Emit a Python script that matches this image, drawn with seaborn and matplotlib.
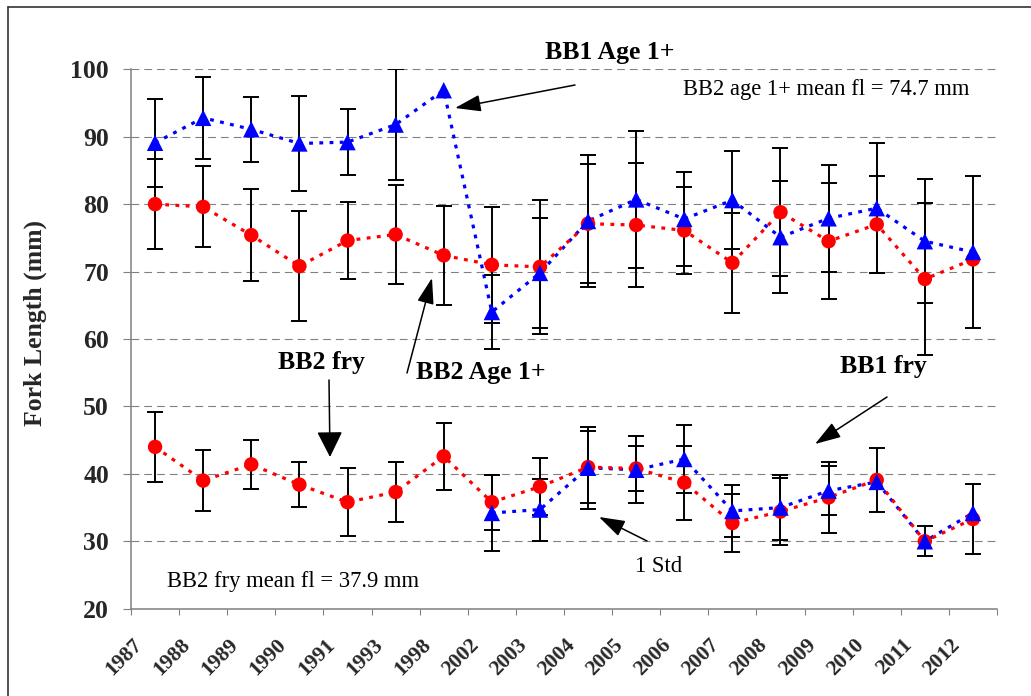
import numpy as np
import pandas as pd
import matplotlib
matplotlib.use("Agg")
import matplotlib.pyplot as plt
from matplotlib.lines import Line2D
import seaborn as sns

nan = np.nan
years = ['1987', '1988', '1989', '1990', '1991', '1993', '1998', '2002', '2003',
         '2004', '2005', '2006', '2007', '2008', '2009', '2010', '2011', '2012']

bb1_age1_mean = [89.1, 92.8, 91.1, 89.0, 89.2, 91.8, 96.9, 64.0, 69.8,
                 77.5, 80.7, 77.8, 80.6, 75.1, 77.9, 79.4, 74.5, 72.9]
bb1_age1_std = [6.5, 6.1, 4.8, 7.1, 4.9, 8.2, nan, 5.5, 8.1,
                9.8, 10.1, 7.0, 7.3, 8.3, 7.9, 9.6, 9.2, 11.3]
bb2_age1_mean = [80.0, 79.6, 75.4, 70.8, 74.6, 75.5, 72.4, 71.0, 70.7,
                 77.1, 76.9, 76.1, 71.3, 78.8, 74.5, 77.0, 68.9, 71.8]
bb2_age1_std = [6.7, 6.0, 6.8, 8.2, 5.7, 7.3, 7.3, 8.6, 9.9,
                8.8, 9.2, 6.4, 7.4, 9.5, 8.6, 7.2, 11.3, nan]
bb2_fry_mean = [44.0, 39.0, 41.4, 38.4, 35.8, 37.3, 42.6, 35.8, 38.1,
                41.0, 40.8, 38.7, 32.7, 34.4, 36.5, 39.1, 30.0, 33.3]
bb2_fry_std = [5.2, 4.5, 3.6, 3.3, 5.0, 4.4, 5.0, 4.1, 4.2,
               5.3, 3.4, 5.5, 4.3, 5.0, 5.2, 4.75, 2.2, 5.2]
bb1_fry_mean = [nan, nan, nan, nan, nan, nan, nan, 34.2, 34.7,
                40.9, 40.6, 42.2, 34.5, 35.0, 37.5, 38.8, 30.0, 34.2]
bb1_fry_std = [nan, nan, nan, nan, nan, nan, nan, 5.6, 4.6,
               6.1, 4.95, 5.05, 3.9, 4.8, 3.6, nan, nan, nan]

series = {
    'BB1 Age 1+': (bb1_age1_mean, bb1_age1_std),
    'BB2 Age 1+': (bb2_age1_mean, bb2_age1_std),
    'BB1 fry': (bb1_fry_mean, bb1_fry_std),
    'BB2 fry': (bb2_fry_mean, bb2_fry_std),
}
rows = []
for name, (m, s) in series.items():
    for i, (mv, sv) in enumerate(zip(m, s)):
        rows.append({'pos': i, 'year': years[i], 'series': name, 'mean': mv, 'std': sv})
df = pd.DataFrame(rows).dropna(subset=['mean'])

palette = {'BB1 Age 1+': '#0000FF', 'BB1 fry': '#0000FF',
           'BB2 Age 1+': '#FF0000', 'BB2 fry': '#FF0000'}
markers = {'BB1 Age 1+': '^', 'BB1 fry': '^', 'BB2 Age 1+': 'o', 'BB2 fry': 'o'}
dashes = {k: (1.2, 2.0) for k in palette}

sns.set_theme(style='white')
plt.rcParams['font.family'] = ['Liberation Serif', 'DejaVu Serif']

W, H = 1031, 696
fig = plt.figure(figsize=(W / 100, H / 100), dpi=100)
ax = fig.add_axes([131 / W, 1 - 608.7 / H, 866 / W, 539.4 / H])

# dotted connecting lines
sns.lineplot(data=df, x='pos', y='mean', hue='series', style='series',
             palette=palette, dashes=dashes, linewidth=2.3, legend=False,
             ax=ax, zorder=2, estimator=None, sort=True)

# error bars (1 std)
for name in series:
    d = df[df['series'] == name].dropna(subset=['std'])
    ax.errorbar(d['pos'], d['mean'], yerr=d['std'], fmt='none', ecolor='black',
                elinewidth=1.4, capsize=5.8, capthick=1.4, zorder=3)

# markers: red circles, blue triangles
red = df[df['series'].isin(['BB2 Age 1+', 'BB2 fry'])]
blue = df[df['series'].isin(['BB1 Age 1+', 'BB1 fry'])]
sns.scatterplot(data=red, x='pos', y='mean', hue='series', style='series',
                palette=palette, markers=markers, s=108, linewidth=0,
                legend=False, ax=ax, zorder=4)
sns.scatterplot(data=blue, x='pos', y='mean', hue='series', style='series',
                palette=palette, markers=markers, s=140, linewidth=0,
                legend=False, ax=ax, zorder=5)

ax.set_xlim(-0.5, len(years) - 0.5)
ax.set_ylim(20, 100)
ax.set_xlabel('')
ax.set_ylabel('Fork Length (mm)', fontsize=18.5, fontweight='bold')
ax.yaxis.set_label_coords(-0.097, 0.53)

ax.set_yticks(np.arange(20, 101, 10))
ax.set_yticklabels([str(v) for v in range(20, 101, 10)], fontsize=18.5, fontweight='bold')
ax.tick_params(axis='y', which='major', direction='out', length=5.8, width=0.8,
               color='#808080', pad=10, left=True)

ax.set_xticks(np.arange(len(years) + 1) - 0.5)
ax.set_xticklabels([])
ax.tick_params(axis='x', which='major', direction='out', length=4.3, width=0.8,
               color='#808080', bottom=True)
ax.set_xticks(np.arange(len(years)) - 0.33, minor=True)
ax.set_xticklabels(years, minor=True, rotation=45, ha='right', va='center',
                   rotation_mode='anchor', fontsize=15.5, fontweight='bold')
ax.tick_params(axis='x', which='minor', length=0, pad=24, bottom=True)

ax.yaxis.grid(True, linestyle=(0, (7, 4.5)), color='#808080', linewidth=0.8)
ax.xaxis.grid(False)
ax.set_axisbelow(True)
for sp in ['top', 'right']:
    ax.spines[sp].set_visible(False)
for sp in ['left', 'bottom']:
    ax.spines[sp].set_color('#808080')
    ax.spines[sp].set_linewidth(1.1)

def fp(x, y):
    return (x, H - y)

texts = [
    ('BB1 Age 1+', 610, 52, 'bold', 18.5),
    ('BB2 age 1+ mean fl = 74.7 mm', 826, 89, 'normal', 16.3),
    ('BB2 Age 1+', 481, 373, 'bold', 18.5),
    ('BB2 fry', 321, 363, 'bold', 18.5),
    ('BB1 fry', 883, 367, 'bold', 18.5),
    ('1 Std', 659, 567, 'normal', 16.3),
    ('BB2 fry mean fl = 37.9 mm', 293, 582, 'normal', 16.3),
]
for t, x, y, w, fs in texts:
    ax.annotate(t, xy=fp(x, y), xycoords='figure pixels', ha='center', va='center',
                fontsize=fs, fontweight=w, color='black')

arrows = [
    ((575, 85), (455, 108), 0.26),
    ((407, 373), (432, 278), 0.26),
    ((329, 380), (330, 457), 0.4),
    ((887, 397), (815, 444), 0.26),
    ((647, 541), (599, 517), 0.26),
]
for tail, tip, hw in arrows:
    ax.annotate('', xy=fp(*tip), xytext=fp(*tail), xycoords='figure pixels',
                textcoords='figure pixels',
                arrowprops=dict(arrowstyle=f'-|>,head_length=0.8,head_width={hw}',
                                mutation_scale=20, color='black', lw=1.1,
                                shrinkA=0, shrinkB=0))

# outer frame (top and left edges visible)
fig.add_artist(Line2D([8 / W, 1.0], [1 - 7 / H, 1 - 7 / H], transform=fig.transFigure,
                      color='#333333', lw=1.2))
fig.add_artist(Line2D([8 / W, 8 / W], [0.0, 1 - 7 / H], transform=fig.transFigure,
                      color='#333333', lw=1.2))

fig.savefig('out.png', dpi=100)
